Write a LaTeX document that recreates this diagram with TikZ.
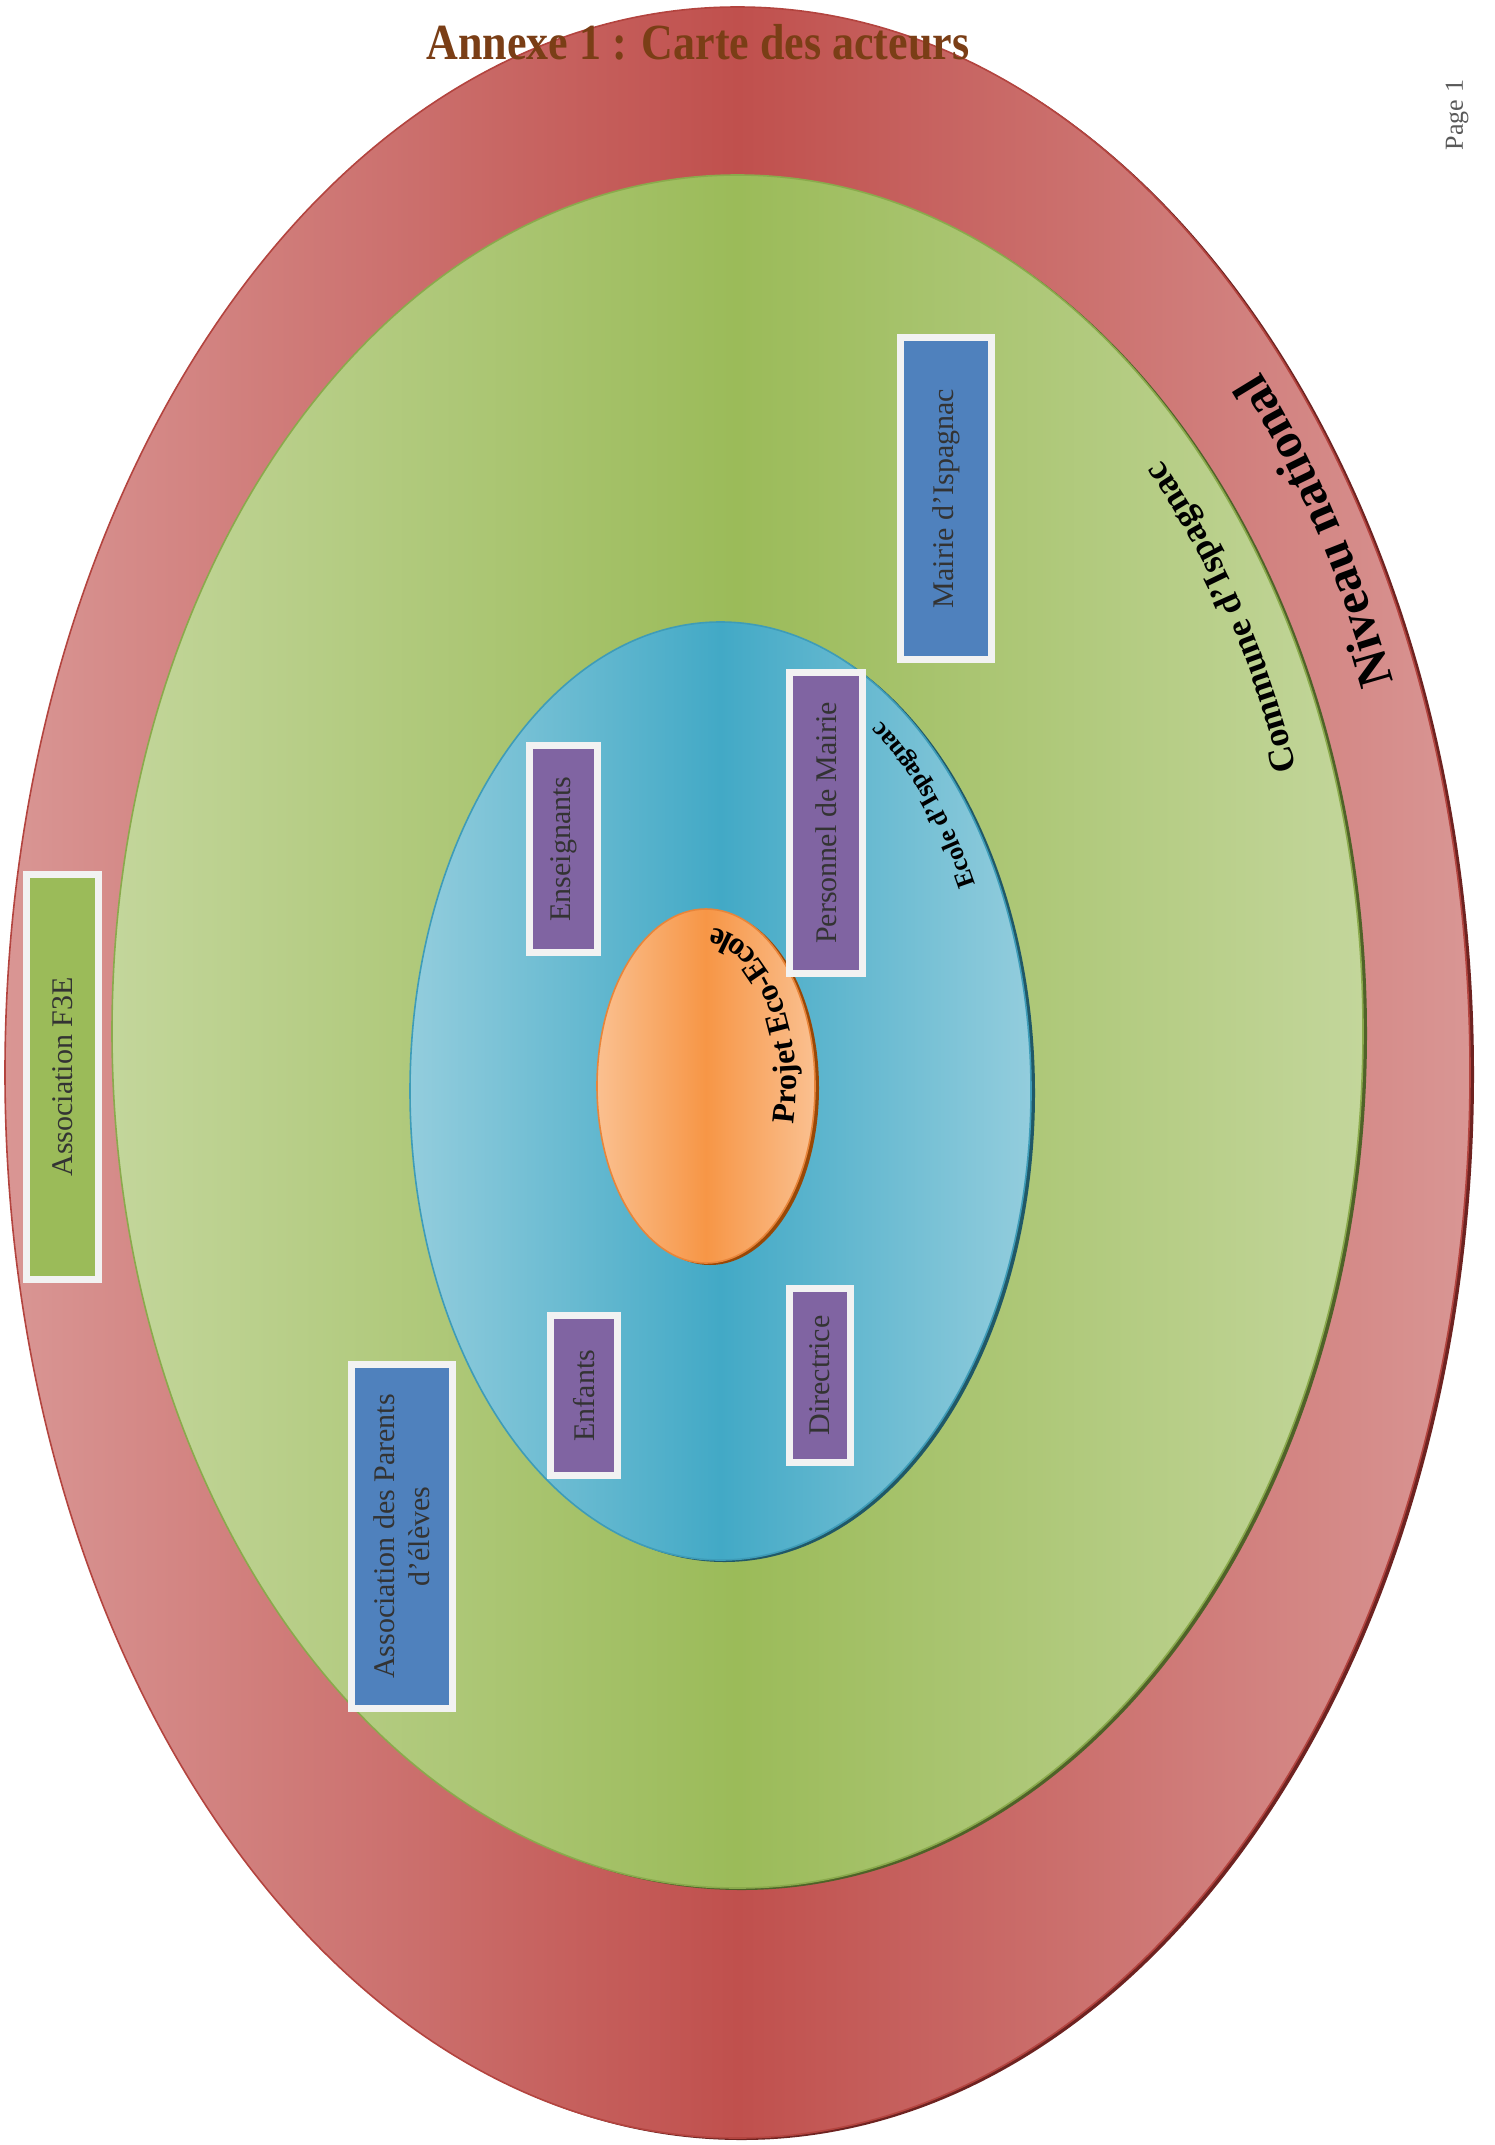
\documentclass[tikz,border=0pt]{standalone}
\usepackage{fontspec}
\setmainfont{Liberation Serif}
\usepackage{tikz}
\usetikzlibrary{decorations.text}

\definecolor{redlight}{HTML}{D99694}
\definecolor{reddark}{HTML}{C0504D}
\definecolor{redline}{HTML}{B3443F}
\definecolor{redshadow}{HTML}{6E2321}
\definecolor{greenlight}{HTML}{C3D69B}
\definecolor{greendark}{HTML}{9BBB59}
\definecolor{greenline}{HTML}{8AAA4C}
\definecolor{greenshadow}{HTML}{4F6228}
\definecolor{bluelight}{HTML}{93CDDD}
\definecolor{bluedark}{HTML}{42A9C6}
\definecolor{blueline}{HTML}{3E9CB8}
\definecolor{blueshadow}{HTML}{205867}
\definecolor{orangelight}{HTML}{FAC090}
\definecolor{orangedark}{HTML}{F79646}
\definecolor{orangeline}{HTML}{E8853A}
\definecolor{orangeshadow}{HTML}{984807}
\definecolor{boxblue}{HTML}{4F81BD}
\definecolor{boxpurple}{HTML}{8064A2}
\definecolor{boxgreen}{HTML}{9BBB59}
\definecolor{boxframe}{HTML}{F2F2F2}
\definecolor{titlebrown}{HTML}{7A3E16}

\begin{document}
\begin{tikzpicture}[x=0.5pt,y=-0.5pt,
    actor/.style={draw=boxframe, line width=3.5pt, rotate=90, text=black!80,
      font=\fontsize{15}{17.5}\selectfont, align=center, inner sep=0pt},
    ringtext/.style={decorate, decoration={text along path, text={#1}}}]

     \useasboundingbox (0,0) rectangle (1494,2145);
     \fill[white] (0,0) rectangle (1494,2145);

     %centres of the rings
     \coordinate (nat) at (737.5,1072.5);
     \coordinate (com) at (737.5,1031.5);
     \coordinate (eco) at (720.5,1091);
     \coordinate (proj) at (706,1086);

     %rings: shadow, then shaded ellipse
     \foreach \c/\rx/\ry/\col in
     {nat/732.5/1065.5/red,com/625.5/856.5/green,eco/310.5/469/blue,proj/109/177/orange}
       {
         \fill[\col shadow] ([shift={(4,2)}]\c) ellipse [x radius=\rx, y radius=\ry];
         \shade[left color=\col light, right color=\col light, middle color=\col dark,
           draw=\col line, line width=0.8pt] (\c) ellipse [x radius=\rx, y radius=\ry];
       }

     %curved ring names
     \path[ringtext={|\fontsize{25}{25}\selectfont\bfseries|Niveau national}, shift={(nat)}]
       (-22.1:707.5 and 1040.5) arc[start angle=-22.1, end angle=-52, x radius=707.5, y radius=1040.5];
     \path[ringtext={|\fontsize{18}{18}\selectfont\bfseries|Commune d’Ispagnac}, shift={(com)}]
       (-18.6:590 and 821) arc[start angle=-18.6, end angle=-55, x radius=590, y radius=821];
     \path[ringtext={|\fontsize{13}{13}\selectfont\bfseries|Ecole d’Ispagnac}, shift={(eco)}]
       (-27.6:287.5 and 446) arc[start angle=-27.6, end angle=-68, x radius=287.5, y radius=446];
     \path[ringtext={|\fontsize{16}{16}\selectfont\bfseries|Projet Eco-Ecole}, shift={(proj)}]
       (14:90 and 158) arc[start angle=14, end angle=-115, x radius=90, y radius=158];

     %actor boxes
     \foreach \name/\x/\y/\len/\wid/\col/\txt in
     {mairie/946/498.5/161/45.5/boxblue/{Mairie d’Ispagnac},
      personnel/826/823/150.5/36.5/boxpurple/{Personnel de Mairie},
      enseignants/563.5/849/103.5/34/boxpurple/{Enseignants},
      enfants/584/1395.5/80/33.5/boxpurple/{Enfants},
      directrice/820/1375.5/87/30.5/boxpurple/{Directrice},
      fthreee/62.5/1077/202.5/36/boxgreen/{Association F3E},
      parents/402/1536.5/172/50.5/boxblue/{Association des Parents\\ d’élèves}}
       {
         \node[actor, fill=\col, minimum width=\len pt, minimum height=\wid pt]
           (\name) at (\x,\y) {\txt};
       }

     %title and page number
     \node[anchor=base, text=titlebrown, font=\fontsize{22}{22}\selectfont\bfseries, yscale=1.15]
       (title) at (698,60) {Annexe 1 : Carte des acteurs};
     \node[rotate=90, text=black!65, font=\fontsize{13}{13}\selectfont]
       (page) at (1457,115) {Page 1};
\end{tikzpicture}
\end{document}
